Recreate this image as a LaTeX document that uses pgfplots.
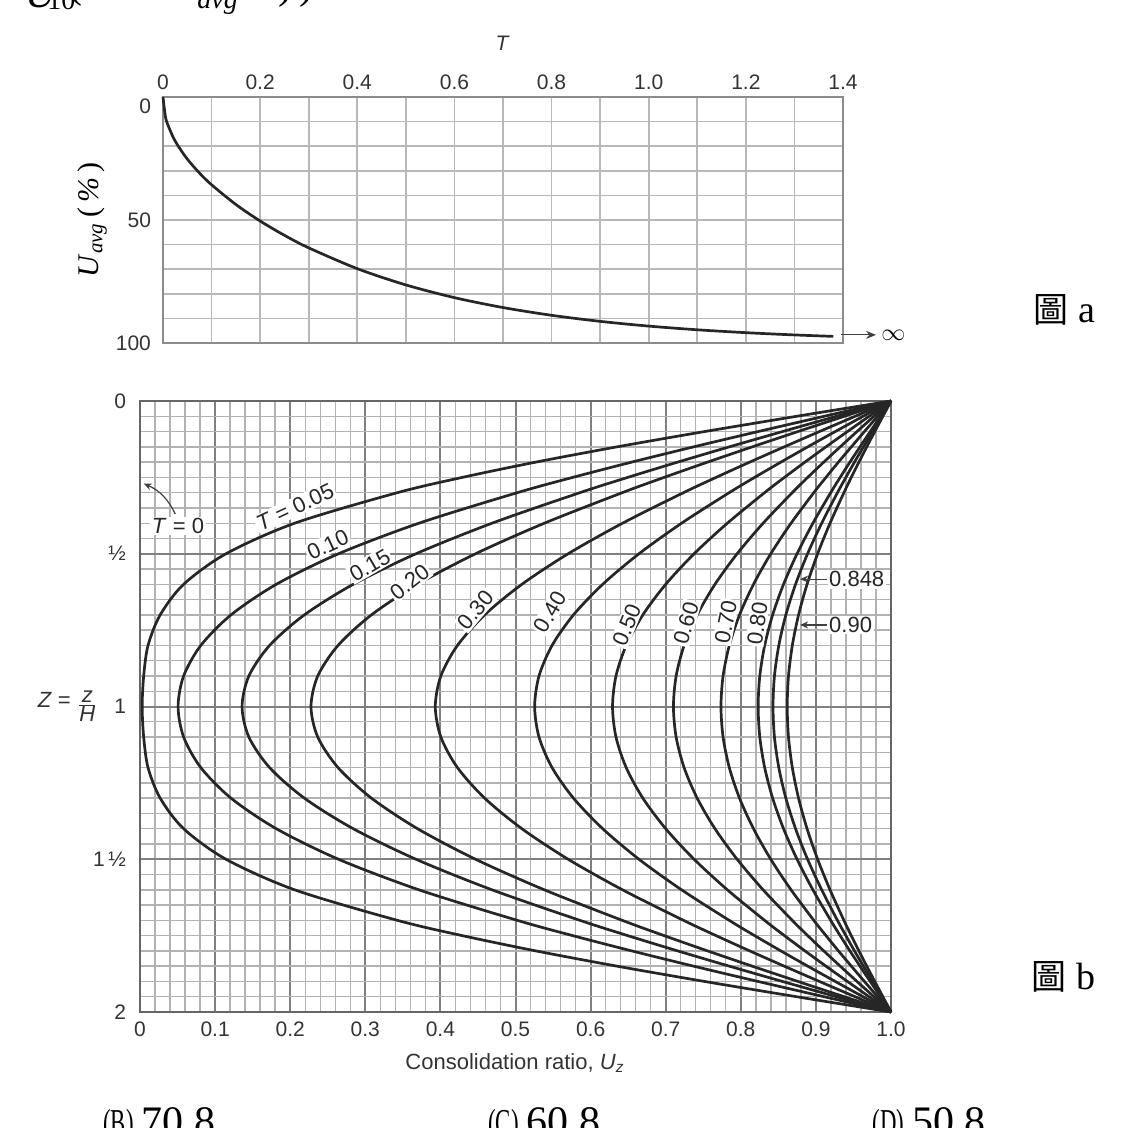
\documentclass[border=0pt]{standalone}
\usepackage{pgfplots}
\pgfplotsset{compat=1.18}
\usepackage{pgfplotstable}
\usepackage{fontspec}
\setmainfont{Liberation Serif}
\setsansfont{Liberation Sans}
\newfontfamily\cjk{Noto Sans CJK TC}
\usetikzlibrary{arrows.meta}

% Average degree of consolidation U_avg (%) vs time factor T
\pgfplotstableread{
T U
0 0
0.005 7.98
0.01 11.28
0.02 15.96
0.03 19.54
0.05 25.23
0.075 30.90
0.1 35.68
0.15 43.70
0.2 50.41
0.25 56.22
0.3 61.32
0.4 69.78
0.5 76.39
0.6 81.56
0.7 85.59
0.8 88.74
0.9 91.20
1.0 93.13
1.1 94.63
1.2 95.80
1.3 96.72
1.38 97.31
}\uavg

% Isochrones Uz at depth Z ; a=0.05 b=0.10 c=0.15 d=0.20 e=0.30 f=0.40 g=0.50 h=0.60 i=0.70 j=0.80 k=0.848 l=0.90
\pgfplotstableread{
Z a b c d e f g h i j k l
0 1 1 1 1 1 1 1 1 1 1 1 1
0.02 .9496 .9643 .9710 .9751 .9809 .9851 .9884 .9909 .9929 .9944 .9951 .9957
0.05 .8744 .9110 .9275 .9378 .9522 .9628 .9709 .9773 .9822 .9861 .9877 .9892
0.1 .7518 .8231 .8555 .8761 .9047 .9258 .9420 .9547 .9646 .9723 .9754 .9784
0.15 .6353 .7373 .7848 .8153 .8579 .8892 .9134 .9324 .9472 .9587 .9633 .9677
0.2 .5271 .6548 .7160 .7558 .8119 .8534 .8854 .9105 .9300 .9453 .9514 .9573
0.25 .4292 .5762 .6495 .6979 .7671 .8184 .8581 .8891 .9134 .9323 .9399 .9471
0.3 .3428 .5025 .5858 .6422 .7237 .7846 .8317 .8685 .8972 .9197 .9287 .9373
0.4 .2059 .3714 .4687 .5384 .6425 .7211 .7821 .8297 .8669 .8960 .9077 .9188
0.5 .1145 .2643 .3675 .4468 .5701 .6644 .7378 .7951 .8399 .8749 .8889 .9023
0.6 .0581 .1815 .2839 .3696 .5085 .6161 .7000 .7656 .8169 .8569 .8729 .8882
0.7 .0269 .1212 .2189 .3082 .4589 .5772 .6696 .7419 .7983 .8424 .8600 .8769
0.8 .0107 .0810 .1726 .2637 .4227 .5487 .6474 .7245 .7847 .8318 .8506 .8686
0.9 .0049 .0581 .1450 .2367 .4006 .5313 .6338 .7139 .7764 .8253 .8448 .8635
1.0 .0029 .0507 .1359 .2277 .3932 .5255 .6292 .7103 .7736 .8231 .8429 .8618
1.1 .0049 .0581 .1450 .2367 .4006 .5313 .6338 .7139 .7764 .8253 .8448 .8635
1.2 .0107 .0810 .1726 .2637 .4227 .5487 .6474 .7245 .7847 .8318 .8506 .8686
1.3 .0269 .1212 .2189 .3082 .4589 .5772 .6696 .7419 .7983 .8424 .8600 .8769
1.4 .0581 .1815 .2839 .3696 .5085 .6161 .7000 .7656 .8169 .8569 .8729 .8882
1.5 .1145 .2643 .3675 .4468 .5701 .6644 .7378 .7951 .8399 .8749 .8889 .9023
1.6 .2059 .3714 .4687 .5384 .6425 .7211 .7821 .8297 .8669 .8960 .9077 .9188
1.7 .3428 .5025 .5858 .6422 .7237 .7846 .8317 .8685 .8972 .9197 .9287 .9373
1.75 .4292 .5762 .6495 .6979 .7671 .8184 .8581 .8891 .9134 .9323 .9399 .9471
1.8 .5271 .6548 .7160 .7558 .8119 .8534 .8854 .9105 .9300 .9453 .9514 .9573
1.85 .6353 .7373 .7848 .8153 .8579 .8892 .9134 .9324 .9472 .9587 .9633 .9677
1.9 .7518 .8231 .8555 .8761 .9047 .9258 .9420 .9547 .9646 .9723 .9754 .9784
1.95 .8744 .9110 .9275 .9378 .9522 .9628 .9709 .9773 .9822 .9861 .9877 .9892
1.98 .9496 .9643 .9710 .9751 .9809 .9851 .9884 .9909 .9929 .9944 .9951 .9957
2 1 1 1 1 1 1 1 1 1 1 1 1
}\iso

\begin{document}
\begin{tikzpicture}[
  lab/.style={fill=white, inner sep=0.8pt, font=\sffamily\fontsize{11}{12}\selectfont, text=black!85},
  curve/.style={black!85, line width=1.35pt, smooth, tension=0.5},
]
\path[use as bounding box] (0,0) rectangle (568pt,-564pt);

% ---------- top chart ----------
\begin{axis}[
  at={(81.5pt,-48.5pt)}, anchor=north west,
  scale only axis, width=340pt, height=123pt,
  xmin=0, xmax=1.4, ymin=0, ymax=100, y dir=reverse,
  xtick={0,0.2,0.4,0.6,0.8,1.0,1.2,1.4},
  xticklabels={0,0.2,0.4,0.6,0.8,1.0,1.2,1.4},
  minor x tick num=1,
  ytick={0,50,100},
  yticklabels={{\raisebox{-5pt}[7pt][0pt]{0}},50,100},
  minor y tick num=4,
  xticklabel pos=upper,
  grid=both,
  major grid style={black!28, line width=0.8pt},
  minor grid style={black!28, line width=0.8pt},
  major tick length=0pt, minor tick length=0pt,
  axis line style={black!45, line width=1pt},
  tick label style={font=\sffamily\fontsize{10.5}{12}\selectfont, text=black!80},
  yticklabel style={xshift=-2.5pt},
  clip=false,
]
\addplot[curve] table[x=T, y=U] {\uavg};
\draw[-{Stealth[length=5pt,width=4pt]}, black!75, line width=0.6pt] (axis cs:1.395,96.7) -- (axis cs:1.468,96.7);
\node[anchor=west, inner sep=0pt, font=\fontsize{13}{14}\selectfont] at (axis cs:1.478,97.0) {$\infty$};
\end{axis}

\node[font=\sffamily\itshape\fontsize{10.5}{12}\selectfont, text=black!80] at (251pt,-21.5pt) {T};
\node[rotate=90, font=\fontsize{15}{18}\selectfont] at (46pt,-110pt) {\textit{U}\textsubscript{\textit{avg}}\,(\,\textit{\%}\,)};

% ---------- bottom chart ----------
\begin{axis}[
  at={(70pt,-200.5pt)}, anchor=north west,
  scale only axis, width=375.5pt, height=305.5pt,
  xmin=0, xmax=1, ymin=0, ymax=2, y dir=reverse,
  xtick={0,0.1,0.2,0.3,0.4,0.5,0.6,0.7,0.8,0.9,1},
  xticklabels={0,0.1,0.2,0.3,0.4,0.5,0.6,0.7,0.8,0.9,1.0},
  minor x tick num=4,
  ytick={0,0.5,1,1.5,2},
  yticklabels={0,½,1,1\,½,2},
  minor y tick num=9,
  grid=both,
  major grid style={black!50, line width=1pt},
  minor grid style={black!30, line width=0.7pt},
  major tick length=0pt, minor tick length=0pt,
  axis line style={black!60, line width=1pt},
  tick label style={font=\sffamily\fontsize{10.5}{12}\selectfont, text=black!80},
  xticklabel style={yshift=-1.5pt},
  yticklabel style={xshift=-3.5pt},
  clip=false,
]
\pgfplotsinvokeforeach{a,b,c,d,e,f,g,h,i,j,k,l}{
  \addplot[curve] table[x=#1, y=Z] {\iso};
}
% curve labels
\draw[-{Stealth[length=4pt,width=3.5pt]}, black!75, line width=0.6pt] (axis cs:0.047,0.37) to[bend right=20] (axis cs:0.005,0.27);
\node[lab] at (axis cs:0.0506,0.409) {\textit{T} = 0};
\node[lab, rotate=25] at (axis cs:0.2064,0.347) {\textit{T} = 0.05};
\node[lab, rotate=25] at (axis cs:0.2500,0.471) {0.10};
\node[lab, rotate=30] at (axis cs:0.3060,0.537) {0.15};
\node[lab, rotate=38] at (axis cs:0.3590,0.592) {0.20};
\node[lab, rotate=50] at (axis cs:0.4470,0.684) {0.30};
\node[lab, rotate=60] at (axis cs:0.546,0.691) {0.40};
\node[lab, rotate=68] at (axis cs:0.648,0.733) {0.50};
\node[lab, rotate=74] at (axis cs:0.727,0.727) {0.60};
\node[lab, rotate=79] at (axis cs:0.780,0.723) {0.70};
\node[lab, rotate=82] at (axis cs:0.822,0.727) {0.80};
\draw[-{Stealth[length=4pt,width=3.5pt]}, black!75, line width=0.6pt] (axis cs:0.915,0.583) -- (axis cs:0.879,0.583);
\node[lab, anchor=west] at (axis cs:0.915,0.583) {0.848};
\draw[-{Stealth[length=4pt,width=3.5pt]}, black!75, line width=0.6pt] (axis cs:0.915,0.733) -- (axis cs:0.879,0.733);
\node[lab, anchor=west] at (axis cs:0.915,0.733) {0.90};
\end{axis}

\node[font=\sffamily\fontsize{11}{12}\selectfont, text=black!80] at (257.5pt,-531.5pt) {Consolidation ratio, \textit{U}\textsubscript{\textit{z}}};
\node[anchor=east, font=\sffamily\fontsize{11}{12}\selectfont, text=black!80, inner sep=0pt] at (49pt,-353pt) {\textit{Z} = \raisebox{-0.25ex}{$\frac{\mbox{\sffamily\itshape z}}{\mbox{\sffamily\itshape H}}$}};

% ---------- side texts ----------
\node[anchor=west, inner sep=0pt] at (516.5pt,-155pt) {{\cjk\fontsize{17.5}{20}\selectfont 圖}\hspace{5pt}{\fontsize{19}{22}\selectfont a}};
\node[anchor=west, inner sep=0pt] at (515.5pt,-488.5pt) {{\cjk\fontsize{17.5}{20}\selectfont 圖}\hspace{5pt}{\fontsize{19}{22}\selectfont b}};

% ---------- cropped surrounding text ----------
\node[anchor=base west, inner sep=0pt, font=\fontsize{21}{25}\selectfont] at (12.5pt,-4pt) {\textit{U}};
\node[anchor=base west, inner sep=0pt, font=\fontsize{14}{16}\selectfont] at (23.5pt,-5pt) {10};
\node[anchor=base west, inner sep=0pt, font=\fontsize{21}{25}\selectfont] at (34pt,1pt) {(};
\node[anchor=base west, inner sep=0pt, font=\fontsize{14}{16}\selectfont] at (98.5pt,-4.5pt) {\textit{avg}};
\node[anchor=base west, inner sep=0pt, font=\fontsize{21}{25}\selectfont] at (139pt,0.5pt) {)\,)};
\node[anchor=base west, inner sep=0pt] at (51.5pt,-567.5pt) {{\fontsize{19}{22}\selectfont\scalebox{0.6}[1]{(B)}}\hspace{4pt}{\fontsize{21}{25}\selectfont 70.8}};
\node[anchor=base west, inner sep=0pt] at (244pt,-567.5pt) {{\fontsize{19}{22}\selectfont\scalebox{0.6}[1]{(C)}}\hspace{4pt}{\fontsize{21}{25}\selectfont 60.8}};
\node[anchor=base west, inner sep=0pt] at (436pt,-567.5pt) {{\fontsize{19}{22}\selectfont\scalebox{0.6}[1]{(D)}}\hspace{4pt}{\fontsize{21}{25}\selectfont 50.8}};
\end{tikzpicture}
\end{document}
